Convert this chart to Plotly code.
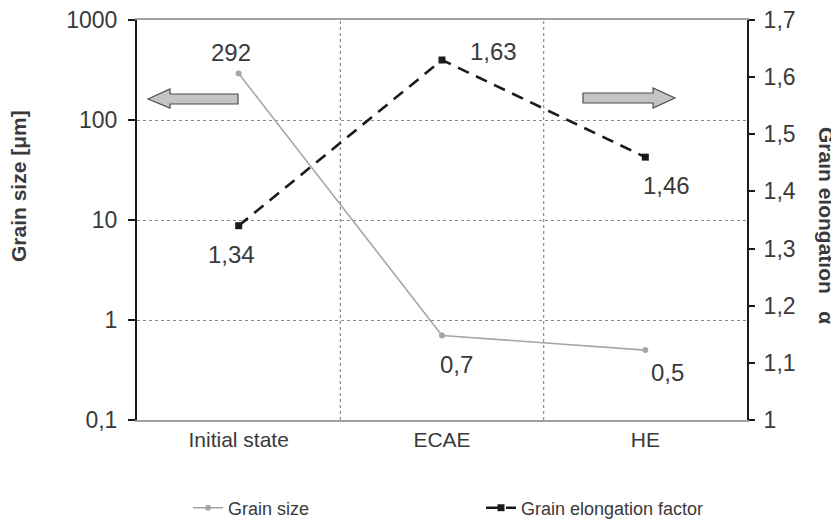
import math
import plotly.graph_objects as go

categories = ["Initial state", "ECAE", "HE"]
grain_size = [292, 0.7, 0.5]
grain_size_labels = ["292", "0,7", "0,5"]
elongation = [1.34, 1.63, 1.46]
elongation_labels = ["1,34", "1,63", "1,46"]
left_tickvals = [0.1, 1, 10, 100, 1000]
left_ticktext = ["0,1", "1", "10", "100", "1000"]
right_tickvals = [1.0, 1.1, 1.2, 1.3, 1.4, 1.5, 1.6, 1.7]
right_ticktext = ["1", "1,1", "1,2", "1,3", "1,4", "1,5", "1,6", "1,7"]

# page has an 8px body margin
OFF = 8
W, H = 839 - OFF, 519 - OFF
PL, PR, PT, PB = 137, 747, 20, 420   # plot area in page pixels
ML, MT = PL - OFF, PT - OFF
MR = 839 - PR
MB = 519 - PB
PW, PH = PR - PL, PB - PT
FONT = "Liberation Sans, Arial, sans-serif"
TXT = "#3a3a3a"

def px(x, y):
    return ((x - PL) / PW, (PB - y) / PH)

def path(points):
    parts = []
    for i, (x, y) in enumerate(points):
        a, b = px(x, y)
        parts.append(("M" if i == 0 else "L") + f"{a:.4f},{b:.4f}")
    return " ".join(parts) + " Z"

xs = list(range(len(categories)))

fig = go.Figure()
fig.add_trace(go.Scatter(
    x=xs, y=grain_size, name="Grain size", mode="lines+markers",
    line=dict(color="#a6a6a6", width=1.6),
    marker=dict(symbol="circle", size=6, color="#a6a6a6"),
    yaxis="y"))
fig.add_trace(go.Scatter(
    x=xs, y=elongation, name="Grain elongation factor", mode="lines+markers",
    line=dict(color="#1a1a1a", width=2.6, dash="12px,8px"),
    marker=dict(symbol="square", size=7, color="#1a1a1a"),
    yaxis="y2"))

annotations = []
gs_shift = [(-8, 21), (14, -29), (22, -22)]
for i, (v, t) in enumerate(zip(grain_size, grain_size_labels)):
    annotations.append(dict(x=xs[i], y=math.log10(v), xref="x", yref="y", text=t,
                            showarrow=False, xshift=gs_shift[i][0], yshift=gs_shift[i][1],
                            font=dict(size=24, color=TXT, family=FONT)))
el_shift = [(-7, -29), (51, 9), (21, -28)]
for i, (v, t) in enumerate(zip(elongation, elongation_labels)):
    annotations.append(dict(x=xs[i], y=v, xref="x", yref="y2", text=t,
                            showarrow=False, xshift=el_shift[i][0], yshift=el_shift[i][1],
                            font=dict(size=24, color=TXT, family=FONT)))

annotations.append(dict(x=px(18, 0)[0], y=px(0, 186)[1], xref="paper", yref="paper",
                        text="<b>Grain size [μm]</b>",
                        textangle=-90, showarrow=False, xanchor="center", yanchor="middle",
                        font=dict(size=21, color=TXT, family=FONT)))
annotations.append(dict(x=px(826, 0)[0], y=px(0, 225)[1], xref="paper", yref="paper",
                        text="<b>Grain elongation&nbsp;&nbsp; α</b>",
                        textangle=90, showarrow=False, xanchor="center", yanchor="middle",
                        font=dict(size=21, color=TXT, family=FONT)))

shapes = []
for xb in [0.5, 1.5]:
    shapes.append(dict(type="line", x0=xb, x1=xb, y0=0, y1=1, xref="x", yref="paper",
                       line=dict(color="#8c8c8c", width=1.2, dash="dot"), layer="below"))
left_arrow = [(148, 99), (170, 89), (170, 94), (238, 94), (238, 104), (170, 104), (170, 108)]
right_arrow = [(583, 93), (653, 93), (653, 88), (675, 98), (653, 108), (653, 103), (583, 103)]
for pts in (left_arrow, right_arrow):
    shapes.append(dict(type="path", path=path(pts), xref="paper", yref="paper",
                       fillcolor="#c4c4c4", line=dict(color="#4d4d4d", width=1.2)))

fig.update_layout(
    width=W, height=H,
    margin=dict(l=ML, r=MR, t=MT, b=MB, autoexpand=False),
    paper_bgcolor="white", plot_bgcolor="white",
    font=dict(family=FONT, color=TXT),
    showlegend=True,
    legend=dict(orientation="h", x=px(188, 0)[0], y=px(0, 508)[1], xanchor="left", yanchor="middle",
                font=dict(size=18, color=TXT, family=FONT), entrywidth=248, entrywidthmode="pixels",
                bgcolor="rgba(0,0,0,0)"),
    xaxis=dict(range=[-0.5, 2.5], tickvals=xs, ticktext=categories, showgrid=False, zeroline=False,
               showline=True, mirror=True, linecolor="#a0a0a0", linewidth=1.5, ticks="",
               tickfont=dict(size=21, color=TXT, family=FONT)),
    yaxis=dict(type="log", range=[-1, 3], tickvals=left_tickvals, ticktext=left_ticktext,
               showgrid=True, gridcolor="#8c8c8c", griddash="dot", gridwidth=1.2,
               showline=True, linecolor="#1a1a1a", linewidth=2, ticks="outside", ticklen=7,
               tickwidth=2, tickcolor="#1a1a1a", ticklabelstandoff=6, ticklabeloverflow="allow",
               tickfont=dict(size=23, color=TXT, family=FONT), zeroline=False),
    yaxis2=dict(range=[1, 1.7], overlaying="y", side="right", tickvals=right_tickvals,
                ticktext=right_ticktext, showgrid=False, showline=True, linecolor="#1a1a1a",
                linewidth=2, ticks="outside", ticklen=6, tickwidth=2, tickcolor="#1a1a1a",
                ticklabelstandoff=4, ticklabeloverflow="allow",
                tickfont=dict(size=23, color=TXT, family=FONT), zeroline=False),
    annotations=annotations, shapes=shapes,
)

fig.write_html("out.html")
